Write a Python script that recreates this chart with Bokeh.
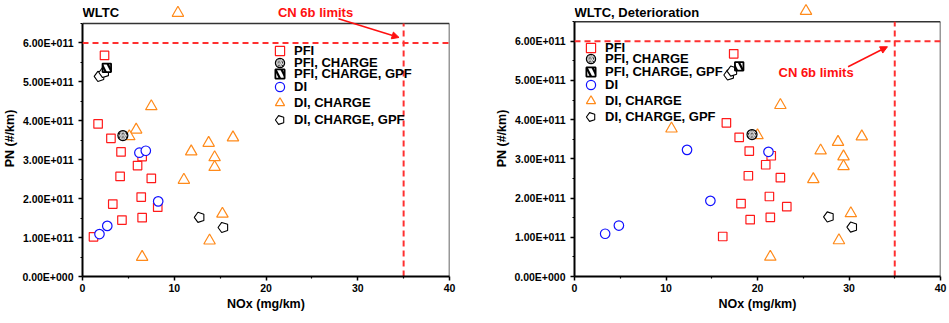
import math
from bokeh.plotting import figure
from bokeh.layouts import row
from bokeh.models import (Range1d, FixedTicker, Legend, LegendItem,
                          Label, Arrow, NormalHead, Span)
from bokeh.embed import file_html
from bokeh.resources import INLINE

# ---------------- data ----------------
# PN in #/km, NOx in mg/km
PFI_PN = [5.68e11, 3.92e11, 3.55e11, 3.20e11, 3.08e11, 2.85e11, 2.57e11,
          2.52e11, 2.04e11, 1.86e11, 1.78e11, 1.45e11, 1.51e11, 1.02e11]
PFI_NOX_WLTC = [2.4, 1.7, 3.1, 4.2, 6.5, 6.0, 4.1, 7.5, 6.4, 3.3, 8.2, 4.3, 6.5, 1.2]
PFI_NOX_DET = [17.4, 16.6, 18.0, 19.1, 21.5, 20.9, 19.0, 22.5, 21.3, 18.2, 23.2, 19.2, 21.4, 16.2]

PFI_CH_PN = [3.62e11]
PFI_CH_NOX_WLTC = [4.4]
PFI_CH_NOX_DET = [19.4]

PFI_CH_GPF_PN = [5.36e11]
PFI_CH_GPF_NOX_WLTC = [2.65]
PFI_CH_GPF_NOX_DET = [18.0]

DI_PN = [3.18e11, 3.23e11, 1.93e11, 1.30e11, 1.09e11]
DI_NOX_WLTC = [6.2, 6.9, 8.25, 2.7, 1.85]
DI_NOX_DET = [21.2, 12.3, 14.85, 4.85, 3.35]

DI_CH_PN = [6.77e11, 4.37e11, 3.77e11, 3.60e11, 3.57e11, 3.43e11, 3.21e11,
            3.06e11, 2.81e11, 2.48e11, 1.61e11, 0.92e11, 0.50e11]
DI_CH_NOX_WLTC = [10.4, 7.5, 5.85, 5.1, 16.4, 13.75, 11.85, 14.4, 14.4, 11.05, 15.25, 13.85, 6.5]
DI_CH_NOX_DET = [25.3, 22.5, 10.6, 20.0, 31.4, 28.8, 26.9, 29.4, 29.4, 26.1, 30.2, 28.9, 21.4]

DI_CH_GPF_PN = [5.14e11, 5.24e11, 1.52e11, 1.26e11]
DI_CH_GPF_NOX_WLTC = [1.85, 2.36, 12.76, 15.35]
DI_CH_GPF_NOX_DET = [16.9, 17.25, 27.8, 30.35]

LABELS = ["PFI", "PFI, CHARGE", "PFI, CHARGE, GPF", "DI", "DI, CHARGE", "DI, CHARGE, GPF"]

NOX_LIMIT = 35
PN_LIMIT = 6e11
X_MAX = 40
Y_BOX_TOP = 6.5e11

X_TICKS = [0, 10, 20, 30, 40]
X_MINOR = [5, 15, 25, 35]
Y_TICKS = [0, 1e11, 2e11, 3e11, 4e11, 5e11, 6e11]
Y_MINOR = [0.5e11, 1.5e11, 2.5e11, 3.5e11, 4.5e11, 5.5e11, 6.5e11]
Y_TICK_LABELS = ["0.00E+000", "1.00E+011", "2.00E+011", "3.00E+011",
                 "4.00E+011", "5.00E+011", "6.00E+011"]

FONT = "Liberation Sans"
RED = "#ff1a1a"
BLUE = "#1010ff"
ORANGE = "#ff8a1a"
LIMIT_RED = "#ff3030"
NOTE_RED = "#ff1010"


def style_axis(ax):
    ax.axis_line_width = 2
    ax.axis_line_color = "black"
    ax.major_tick_line_width = 1.5
    ax.minor_tick_line_width = 1.2
    ax.major_tick_out = 4
    ax.major_tick_in = 0
    ax.minor_tick_out = 2
    ax.minor_tick_in = 0
    ax.major_label_text_font = FONT
    ax.major_label_text_font_style = "bold"
    ax.major_label_text_font_size = "10.5px"
    ax.major_label_text_color = "black"
    ax.axis_label_text_font = FONT
    ax.axis_label_text_font_style = "bold"
    ax.axis_label_text_font_size = "12.5px"
    ax.axis_label_text_color = "black"


def pentagons(p, xs, ys):
    try:
        r = p.ngon(x=xs, y=ys, radius=5.3, radius_units="screen", n=5,
                   angle=math.pi / 2, fill_color="white", line_color="black",
                   line_width=1.1)
    except Exception:
        r = p.scatter(xs, ys, marker="hex", size=10.5, fill_color="white",
                      line_color="black", line_width=1.1)
    return r


def make_panel(title, nox, width, height, bl, br, bb, ytop,
               leg_x, leg_ys, cn_xy, arrow_xy, title_y):
    (pfi_x, pfich_x, pfigpf_x, di_x, dich_x, digpf_x) = nox
    p = figure(width=width, height=height, output_backend="svg",
               toolbar_location=None, x_range=Range1d(0, X_MAX),
               y_range=Range1d(0, ytop), min_border_left=bl,
               min_border_right=br, min_border_bottom=bb, min_border_top=0,
               title=None)
    p.outline_line_color = None
    p.grid.visible = False
    p.background_fill_color = "white"
    p.border_fill_color = "white"

    xa = p.xaxis[0]
    xa.ticker = FixedTicker(ticks=X_TICKS, minor_ticks=X_MINOR)
    style_axis(xa)
    xa.axis_label = "NOx (mg/km)"
    xa.major_label_standoff = 3
    xa.axis_label_standoff = 2

    ya = p.yaxis[0]
    ya.ticker = FixedTicker(ticks=Y_TICKS, minor_ticks=Y_MINOR)
    ya.bounds = (0, Y_BOX_TOP)
    style_axis(ya)
    ya.axis_label = "PN (#/km)"
    ya.major_label_overrides = {t: l for t, l in zip(Y_TICKS, Y_TICK_LABELS)}
    ya.major_label_standoff = 5
    ya.axis_label_standoff = 2

    # top and right border of the box
    p.segment(x0=[0, X_MAX], y0=[Y_BOX_TOP, 0], x1=[X_MAX, X_MAX],
              y1=[Y_BOX_TOP, Y_BOX_TOP], line_color="#333333", line_width=1.5)

    # limits
    p.add_layout(Span(location=PN_LIMIT, dimension="width", line_color=LIMIT_RED,
                      line_width=2, line_dash="6 4"))
    p.segment(x0=[NOX_LIMIT], y0=[0], x1=[NOX_LIMIT], y1=[Y_BOX_TOP],
              line_color=LIMIT_RED, line_width=2, line_dash="6 4")

    r_pfi = p.scatter(pfi_x, PFI_PN, marker="square", size=8.5, fill_color="white",
                      line_color=RED, line_width=1.2)
    r_dich = p.scatter(dich_x, DI_CH_PN, marker="triangle", size=11.5,
                       fill_color="white", line_color=ORANGE, line_width=1.2)
    r_di = p.scatter(di_x, DI_PN, marker="circle", size=9.5, fill_color="white",
                     line_color=BLUE, line_width=1.2)
    r_digpf = pentagons(p, digpf_x, DI_CH_GPF_PN)
    r_pfich = p.scatter(pfich_x, PFI_CH_PN, marker="circle", size=10,
                        fill_color="#222222", line_color="black", line_width=1.2,
                        hatch_pattern="/", hatch_color="white", hatch_scale=3.5,
                        hatch_weight=1.1)
    r_pfigpf = p.scatter(pfigpf_x, PFI_CH_GPF_PN, marker="square", size=8.5,
                         fill_color="white", line_color="black", line_width=1.8,
                         hatch_pattern="\\", hatch_color="black", hatch_scale=12,
                         hatch_weight=2.2)

    renderers = [r_pfi, r_pfich, r_pfigpf, r_di, r_dich, r_digpf]
    for lab, r, ly in zip(LABELS, renderers, leg_ys):
        leg = Legend(items=[LegendItem(label=lab, renderers=[r])],
                     location=(leg_x, ly), orientation="vertical",
                     glyph_width=23, glyph_height=23, label_height=23,
                     padding=0, margin=0, label_standoff=3,
                     border_line_color=None, background_fill_alpha=0,
                     label_text_font=FONT, label_text_font_style="bold",
                     label_text_font_size="13px", label_text_color="black")
        p.add_layout(leg, "center")

    p.add_layout(Label(x=0, y=title_y, text=title, text_font=FONT,
                       text_font_style="bold", text_font_size="13px",
                       text_color="black", text_baseline="middle"))
    p.add_layout(Label(x=cn_xy[0], y=cn_xy[1], text="CN 6b limits", text_font=FONT,
                       text_font_style="bold", text_font_size="13px",
                       text_color=NOTE_RED, text_align="center",
                       text_baseline="middle"))
    p.add_layout(Arrow(end=NormalHead(size=7, fill_color=NOTE_RED,
                                      line_color=NOTE_RED),
                       x_start=arrow_xy[0], y_start=arrow_xy[1],
                       x_end=arrow_xy[2], y_end=arrow_xy[3],
                       line_color=NOTE_RED, line_width=1.5))
    return p


p1 = make_panel("WLTC",
                (PFI_NOX_WLTC, PFI_CH_NOX_WLTC, PFI_CH_GPF_NOX_WLTC, DI_NOX_WLTC,
                 DI_CH_NOX_WLTC, DI_CH_GPF_NOX_WLTC),
                width=482, height=323, bl=82, br=33, bb=41, ytop=7.09e11,
                leg_x=186, leg_ys=[214, 202, 191, 178, 162, 145],
                cn_xy=(25.4, 6.78e11),
                arrow_xy=(27.9, 6.62e11, 34.5, 6.14e11), title_y=6.79e11)
p2 = make_panel("WLTC, Deterioration",
                (PFI_NOX_DET, PFI_CH_NOX_DET, PFI_CH_GPF_NOX_DET, DI_NOX_DET,
                 DI_CH_NOX_DET, DI_CH_GPF_NOX_DET),
                width=466, height=323, bl=92, br=8, bb=47, ytop=7.04e11,
                leg_x=5, leg_ys=[217, 206, 193, 180, 164, 148],
                cn_xy=(26.4, 5.2e11),
                arrow_xy=(29.9, 5.35e11, 34.2, 5.86e11), title_y=6.73e11)

layout = row(p1, p2)
open("out.html", "w").write(file_html(layout, INLINE))
